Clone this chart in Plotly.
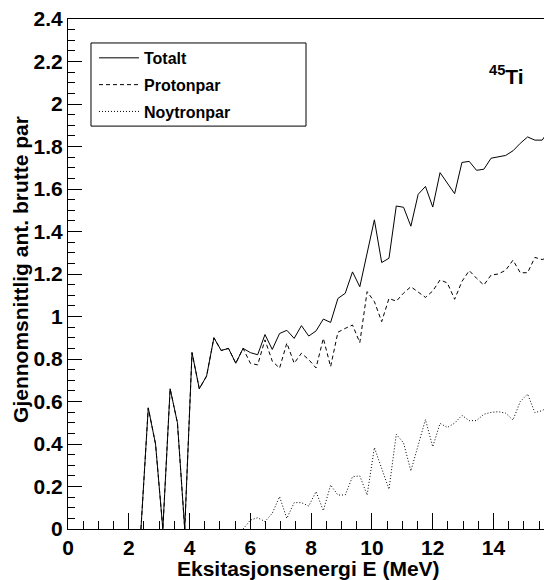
import plotly.graph_objects as go

# Excitation energy (MeV)
energy = [2.4, 2.64, 2.88, 3.12, 3.36, 3.6, 3.84, 4.08, 4.32, 4.56, 4.8, 5.04, 5.28, 5.52,
          5.76, 6.0, 6.24, 6.48, 6.72, 6.96, 7.2, 7.44, 7.68, 7.92, 8.16, 8.4, 8.64, 8.88,
          9.12, 9.36, 9.6, 9.84, 10.08, 10.32, 10.56, 10.8, 11.04, 11.28, 11.52, 11.76,
          12.0, 12.24, 12.48, 12.72, 12.96, 13.2, 13.44, 13.68, 13.92, 14.16, 14.4, 14.64,
          14.88, 15.12, 15.36, 15.6, 15.84]

totalt = [0.0, 0.57, 0.40, 0.0, 0.66, 0.50, 0.0, 0.83, 0.66, 0.72, 0.90, 0.84, 0.85, 0.78,
          0.85, 0.83, 0.82, 0.915, 0.845, 0.92, 0.935, 0.897, 0.957, 0.908, 0.932, 0.988,
          0.972, 1.085, 1.109, 1.21, 1.14, 1.30, 1.455, 1.254, 1.274, 1.52, 1.514, 1.425,
          1.575, 1.612, 1.515, 1.677, 1.63, 1.578, 1.725, 1.73, 1.688, 1.693, 1.745, 1.75,
          1.758, 1.78, 1.815, 1.845, 1.83, 1.83, 1.88]

protonpar = [0.0, 0.57, 0.40, 0.0, 0.66, 0.50, 0.0, 0.83, 0.66, 0.72, 0.90, 0.84, 0.85, 0.78,
             0.85, 0.78, 0.772, 0.89, 0.79, 0.757, 0.875, 0.78, 0.827, 0.797, 0.758, 0.897,
             0.764, 0.926, 0.944, 0.96, 0.877, 1.117, 1.07, 0.976, 1.085, 1.072, 1.11, 1.14,
             1.115, 1.09, 1.12, 1.172, 1.158, 1.081, 1.165, 1.216, 1.18, 1.148, 1.195, 1.2,
             1.218, 1.265, 1.206, 1.206, 1.278, 1.268, 1.28]

noytron_energy = [5.76, 6.0, 6.24, 6.48, 6.72, 6.96, 7.2, 7.44, 7.68, 7.92, 8.16, 8.4, 8.64,
                  8.88, 9.12, 9.36, 9.6, 9.84, 10.08, 10.32, 10.56, 10.8, 11.04, 11.28, 11.52,
                  11.76, 12.0, 12.24, 12.48, 12.72, 12.96, 13.2, 13.44, 13.68, 13.92, 14.16,
                  14.4, 14.64, 14.88, 15.12, 15.36, 15.6, 15.84]

noytronpar = [0.0, 0.042, 0.053, 0.035, 0.074, 0.152, 0.05, 0.124, 0.124, 0.108, 0.176, 0.086,
              0.207, 0.16, 0.16, 0.246, 0.25, 0.16, 0.383, 0.28, 0.187, 0.446, 0.405, 0.273,
              0.40, 0.515, 0.387, 0.497, 0.478, 0.498, 0.535, 0.51, 0.51, 0.54, 0.549, 0.552,
              0.545, 0.513, 0.60, 0.635, 0.548, 0.557, 0.58]

FONT = "Liberation Sans"

fig = go.Figure()
fig.add_trace(go.Scatter(x=energy, y=totalt, mode="lines", name="Totalt", legendgroup="t",
                         line=dict(color="black", width=1)))
fig.add_trace(go.Scatter(x=energy, y=protonpar, mode="lines", name="Protonpar", legendgroup="p",
                         line=dict(color="black", width=1, dash="4px,3px")))
fig.add_trace(go.Scatter(x=noytron_energy, y=noytronpar, mode="lines", name="Noytronpar",
                         legendgroup="n", line=dict(color="black", width=1, dash="1px,2px")))

fig.update_layout(
    width=544, height=580,
    margin=dict(l=68, r=0, t=19, b=51),
    plot_bgcolor="white", paper_bgcolor="white",
    font=dict(family=FONT, size=21, color="black", weight="bold"),
    showlegend=True,
    legend=dict(x=0.0546, y=0.957, xanchor="left", yanchor="top",
                borderwidth=0, bgcolor="rgba(0,0,0,0)",
                font=dict(family=FONT, size=16, color="black", weight="bold"),
                tracegroupgap=3, itemwidth=40),
    shapes=[
        # legend frame
        dict(type="rect", xref="paper", yref="paper", x0=0.0483, x1=0.5, y0=0.790, y1=0.953,
             line=dict(color="black", width=1), fillcolor="white", layer="above"),
    ],
    xaxis=dict(range=[0, 15.66], tick0=0, dtick=2, ticks="inside", ticklen=16, tickwidth=1,
               tickcolor="black", showline=True, linecolor="black", linewidth=1, mirror=True,
               showgrid=False, zeroline=False,
               tickfont=dict(family=FONT, size=21, color="black", weight="bold"),
               minor=dict(ticks="inside", ticklen=8, dtick=0.5, tick0=0, tickcolor="black",
                          showgrid=False)),
    yaxis=dict(range=[0, 2.4], tick0=0, dtick=0.2, ticks="inside", ticklen=14, tickwidth=1,
               tickcolor="black", showline=True, linecolor="black", linewidth=1, mirror=True,
               showgrid=False, zeroline=False,
               tickfont=dict(family=FONT, size=21, color="black", weight="bold"),
               minor=dict(ticks="inside", ticklen=7, dtick=0.05, tick0=0, tickcolor="black",
                          showgrid=False)),
    annotations=[
        dict(text="<sup>45</sup>Ti", xref="paper", yref="paper", x=0.922, y=0.89,
             xanchor="center", yanchor="middle", showarrow=False,
             font=dict(family=FONT, size=21, color="black", weight="bold")),
        dict(text="Eksitasjonsenergi E (MeV)", xref="paper", yref="paper", x=0.506, y=-0.0784,
             xanchor="center", yanchor="middle", showarrow=False,
             font=dict(family=FONT, size=21, color="black", weight="bold")),
        dict(text="Gjennomsnittlig ant. brutte par", xref="paper", yref="paper", x=-0.0987,
             y=0.508, xanchor="center", yanchor="middle", textangle=-90, showarrow=False,
             font=dict(family=FONT, size=21, color="black", weight="bold")),
    ],
)

fig.write_html("out.html")
